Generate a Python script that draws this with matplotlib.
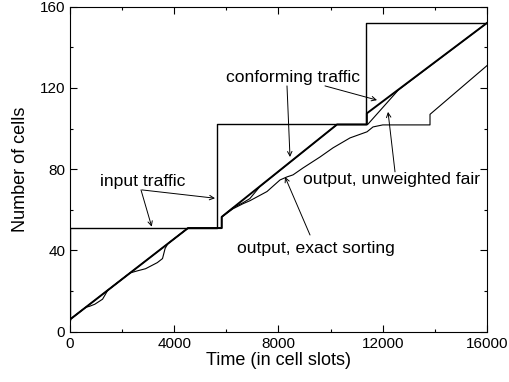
import matplotlib
matplotlib.use('Agg')
import matplotlib.pyplot as plt
from matplotlib.ticker import MultipleLocator

plt.rcParams['font.family'] = ['Liberation Sans', 'DejaVu Sans']

# cumulative cells vs time (cell slots)
input_t = [0, 0, 5650, 5650, 11357, 11357, 16000]
input_n = [6, 51, 51, 102, 102, 152, 152]

conf_t = [0, 4527, 5820, 5820, 10245, 11390, 11390, 16000]
conf_n = [6, 51, 51, 56.5, 102, 102, 107.5, 152]

fair_t = [0, 4527, 5820, 5820, 6250, 6640, 6900, 7290, 10245, 11420, 12600, 16000]
fair_n = [6, 51, 51, 56.5, 61, 63.5, 65.5, 71.5, 102, 102, 119, 152]

exact_t = [0, 600, 750, 950, 1250, 1450, 2300, 2600, 2900, 3350, 3550, 3650, 3760,
           4527, 5820, 5820, 6254, 6638, 6907, 7559, 8058, 8326, 8557, 8940, 9592,
           10091, 10744, 11396, 11626, 12000, 13813, 13813, 16000]
exact_n = [6, 12, 12.5, 13.5, 16, 20.4, 28.9, 30, 31, 34, 36, 41, 43.4,
           51, 51, 56.5, 60.5, 63, 64.5, 69, 74.7, 76.2, 77.2, 80.6, 86,
           90.5, 95.4, 98.4, 100.8, 101.8, 101.8, 107, 131]

fig = plt.figure(figsize=(5.09, 3.82), dpi=100)
ax = fig.add_axes([0.1375, 0.1317, 0.8193, 0.8508])

ax.plot(input_t, input_n, color='black', lw=1.0)
ax.plot(exact_t, exact_n, color='black', lw=0.8)
ax.plot(fair_t, fair_n, color='black', lw=0.8)
ax.plot(conf_t, conf_n, color='black', lw=1.4)

ax.set_xlim(0, 16000)
ax.set_ylim(0, 160)
ax.xaxis.set_major_locator(MultipleLocator(4000))
ax.xaxis.set_minor_locator(MultipleLocator(2000))
ax.yaxis.set_major_locator(MultipleLocator(40))
ax.yaxis.set_minor_locator(MultipleLocator(20))
ax.tick_params(which='both', direction='in', top=True, right=True, labelsize=11, width=0.8)
ax.tick_params(which='major', length=4.8)
ax.tick_params(which='minor', length=2.4)
for s in ax.spines.values():
    s.set_linewidth(0.8)

ax.set_xlabel('Time (in cell slots)', fontsize=13, labelpad=1)
ax.set_ylabel('Number of cells', fontsize=13, labelpad=8)

arr = dict(arrowstyle='->', lw=0.7, color='black', shrinkA=0, shrinkB=0,
           mutation_scale=8)

ax.text(1151, 73.7, 'input traffic', fontsize=12.6, va='center', ha='left')
ax.annotate('', xy=(3135, 51.7), xytext=(2724, 69.8), arrowprops=arr)
ax.annotate('', xy=(5564, 65.7), xytext=(2760, 69.8), arrowprops=arr)

ax.text(6000, 125, 'conforming traffic', fontsize=12.6, va='center', ha='left')
ax.annotate('', xy=(8441, 86), xytext=(8326, 121), arrowprops=arr)
ax.annotate('', xy=(11780, 114), xytext=(9784, 121), arrowprops=arr)

ax.text(8940, 74.7, 'output, unweighted fair', fontsize=12.6, va='center', ha='left')
ax.annotate('', xy=(12202, 108.2), xytext=(12470, 78.7), arrowprops=arr)

ax.text(6408, 41.2, 'output, exact sorting', fontsize=12.6, va='center', ha='left')
ax.annotate('', xy=(8250, 76.2), xytext=(9209, 47.6), arrowprops=arr)

fig.savefig('out.png', dpi=100)
